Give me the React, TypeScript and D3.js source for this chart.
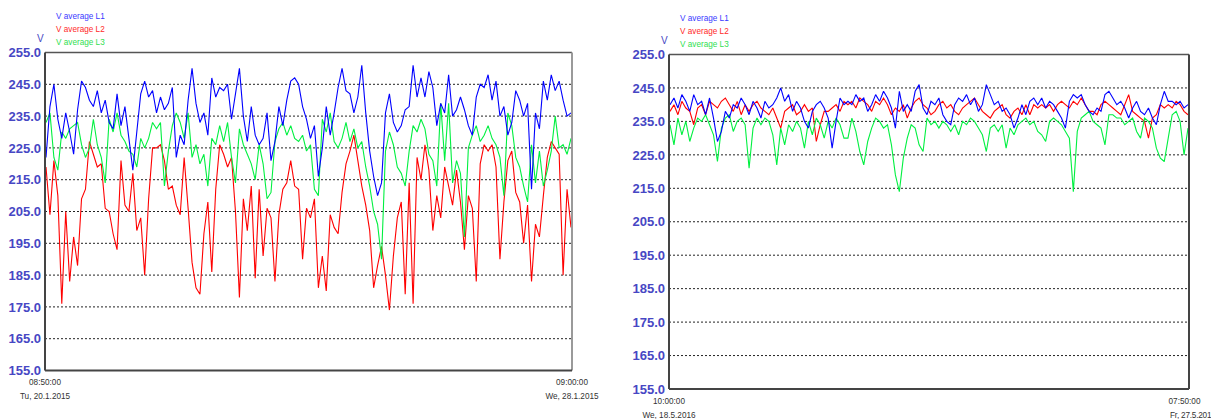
import * as d3 from 'd3';

// voltage readings, left recording (20.1.2015 - 28.1.2015)
const leftL1 = [
  222, 238, 245, 234, 228, 236, 230, 223, 237, 246, 244, 240, 238, 243, 236, 240, 233, 231, 242, 232, 238, 228, 218, 230, 242,
  246, 241, 243, 236, 241, 237, 239, 244, 222, 229, 226, 240, 250, 239, 233, 236, 229, 247, 241, 244,
  243, 245, 234, 242, 250, 235, 227, 238, 229, 226, 228, 236, 221, 227, 238, 232, 240, 246, 247, 245, 238, 234, 228, 232, 216,
  225, 238, 229, 236, 244, 250, 243, 242, 236, 241, 251, 236, 224, 216, 210, 214, 236, 242, 233, 230,
  232, 237, 238, 251, 241, 247, 241, 249, 244, 232, 239, 236, 248, 235, 237, 241, 237, 232, 229, 241, 245, 244, 248, 240, 246,
  235, 238, 229, 233, 243, 240, 235, 239, 212, 236, 231, 246, 240, 248, 243, 246, 240, 235, 236,
];
const leftL2 = [
  219, 204, 221, 210, 176, 205, 183, 197, 188, 209, 212, 227, 223, 219, 220, 206, 205, 198, 193, 221, 207, 205, 217, 199, 203,
  185, 209, 225, 225, 226, 221, 212, 213, 207, 204, 222, 206, 189, 181, 179, 198, 208, 186, 212, 226,
  223, 219, 222, 205, 178, 209, 199, 213, 184, 212, 191, 206, 203, 183, 204, 212, 214, 221, 213, 212, 190, 206, 203, 209, 181,
  191, 180, 204, 200, 198, 211, 220, 224, 229, 221, 213, 207, 199, 181, 188, 194, 185, 174, 191, 203,
  208, 179, 214, 176, 222, 215, 226, 218, 199, 210, 203, 219, 213, 207, 218, 208, 193, 210, 206, 183, 220, 226, 224, 226, 219,
  190, 208, 221, 224, 211, 208, 195, 207, 183, 201, 197, 210, 222, 227, 225, 223, 185, 212, 200,
];
const leftL3 = [
  233, 236, 222, 218, 230, 228, 231, 232, 233, 226, 222, 225, 234, 226, 222, 214, 234, 230, 236, 229, 227, 224, 223, 219, 228,
  225, 228, 233, 231, 233, 213, 224, 232, 236, 233, 228, 236, 222, 226, 220, 223, 213, 228, 226, 232,
  227, 233, 222, 214, 231, 226, 223, 220, 215, 226, 220, 209, 211, 227, 231, 233, 229, 232, 228, 227, 229, 224, 226, 212, 210,
  234, 230, 236, 227, 225, 228, 233, 227, 231, 225, 227, 219, 213, 205, 201, 190, 224, 230, 226, 219,
  217, 213, 224, 232, 230, 234, 231, 223, 221, 213, 239, 221, 239, 214, 221, 217, 197, 225, 229, 232, 227, 229, 232, 228, 226,
  222, 210, 236, 232, 222, 219, 213, 208, 226, 214, 224, 213, 218, 224, 235, 225, 226, 223, 228,
];

// voltage readings, right recording (18.5.2016 - 27.5.2016)
const rightL1 = [
  240, 242, 239, 243, 241, 238, 243, 240, 241, 237, 242, 236, 229, 232, 238, 236, 240, 239, 242, 240, 237, 241, 239, 236, 241,
  239, 240, 242, 245, 241, 243, 238, 241, 239, 235, 233, 238, 240, 241, 239, 236, 227, 235, 242, 240,
  241, 240, 243, 241, 242, 238, 240, 243, 241, 244, 242, 239, 233, 244, 238, 240, 238, 244, 246, 239, 237, 241, 240, 242, 237,
  235, 234, 240, 242, 241, 243, 240, 242, 238, 240, 246, 243, 240, 241, 238, 239, 237, 233, 236, 240,
  237, 241, 242, 240, 242, 239, 241, 240, 238, 236, 233, 241, 243, 242, 243, 240, 238, 237, 239, 238, 243, 244, 242, 240, 241,
  239, 236, 239, 241, 238, 237, 239, 236, 234, 240, 244, 241, 241, 240, 241, 239, 240,
];
const rightL2 = [
  238, 240, 237, 241, 239, 238, 234, 239, 240, 237, 241, 240, 239, 241, 242, 240, 238, 241, 237, 240, 238, 240, 241, 239, 238,
  237, 239, 236, 233, 238, 239, 240, 237, 238, 240, 238, 239, 229, 234, 238, 238, 239, 240, 238, 241,
  240, 241, 239, 242, 241, 240, 238, 241, 240, 242, 240, 237, 239, 238, 240, 236, 239, 241, 242, 240, 239, 237, 238, 240, 241,
  239, 240, 238, 237, 239, 240, 241, 242, 240, 238, 237, 236, 238, 239, 240, 237, 236, 238, 239, 237,
  240, 237, 240, 239, 240, 239, 240, 238, 240, 241, 240, 239, 241, 240, 242, 240, 238, 238, 237, 240, 241, 240, 239, 238, 237,
  240, 243, 238, 237, 236, 235, 230, 236, 237, 240, 239, 240, 239, 241, 240, 238, 237,
];
const rightL3 = [
  234, 228, 236, 231, 235, 229, 233, 236, 235, 237, 234, 231, 223, 233, 236, 237, 232, 235, 236, 234, 221, 233, 236, 234, 236,
  235, 231, 222, 233, 228, 234, 232, 235, 233, 227, 235, 231, 236, 234, 230, 235, 233, 236, 234, 230,
  230, 236, 232, 226, 222, 229, 233, 236, 235, 233, 234, 228, 219, 214, 224, 230, 234, 233, 228, 226, 236, 234, 235, 233, 235,
  234, 232, 234, 231, 235, 234, 236, 235, 233, 231, 226, 233, 234, 232, 234, 227, 233, 231, 234, 235,
  236, 234, 235, 232, 231, 229, 235, 236, 235, 234, 232, 230, 214, 232, 236, 237, 238, 235, 234, 233, 228, 237, 237, 236, 236,
  234, 235, 236, 232, 230, 236, 235, 233, 227, 224, 223, 230, 237, 238, 235, 225, 233,
];

const yTicks = [155, 165, 175, 185, 195, 205, 215, 225, 235, 245, 255];
const seriesNames = ['V average L1', 'V average L2', 'V average L3'];
const leftTimes = ['08:50:00', 'Tu, 20.1.2015', '09:00:00', 'We, 28.1.2015'];
const rightTimes = ['10:00:00', 'We, 18.5.2016', '07:50:00', 'Fr, 27.5.2016'];

const colors = ['#0000ff', '#ff0000', '#00f040'];
const legendColors = ['#3a3aff', '#ff2a2a', '#30e050'];
const tickColor = '#4747c4';
const font = "'Liberation Sans', Arial, sans-serif";

type PanelProps = {
  x0: number; x1: number; top: number; bottom: number;
  series: number[][];
  times: string[];
  timeY: number;
  endShift: number;
  rightEdge: string;
};

function Panel({ x0, x1, top, bottom, series, times, timeY, endShift, rightEdge }: PanelProps) {
  const y = d3.scaleLinear().domain([155, 255]).range([bottom, top]);
  const grid = yTicks.filter(t => t > 155 && t < 255);
  // draw order: L2, L3, L1
  const order = [1, 2, 0];

  return (
    <g>
      <text x={x0 - 8} y={top - 11} fontSize={10} fill={tickColor} fontFamily={font}>V</text>
      {seriesNames.map((s, i) => (
        <text key={s} x={x0 + 11} y={top - 34 + i * 13} fontSize={8.2} fill={legendColors[i]} fontFamily={font}>{s}</text>
      ))}
      {grid.map(t => (
        <line key={t} x1={x0} x2={x1} y1={y(t)} y2={y(t)} stroke="#222" strokeWidth={1} strokeDasharray="2,2" />
      ))}
      {yTicks.map(t => (
        <text key={t} x={x0 - 4} y={y(t)} dy="0.36em" textAnchor="end" fontSize={13} fontWeight="bold"
          fill={tickColor} fontFamily={font}>{t.toFixed(1)}</text>
      ))}
      {order.map(i => {
        const data = series[i];
        const x = d3.scaleLinear().domain([0, data.length - 1]).range([x0 + 1, x1 - 1]);
        const line = d3.line<number>().x((_, k) => x(k)).y(d => y(d));
        return <path key={i} d={line(data) || ''} fill="none" stroke={colors[i]} strokeWidth={1.1}
          strokeLinejoin="miter" strokeMiterlimit={2} />;
      })}
      <line x1={x0} x2={x1} y1={top} y2={top} stroke="#555" strokeWidth={1.5} />
      <line x1={x1} x2={x1} y1={top} y2={bottom} stroke={rightEdge} strokeWidth={2} />
      <line x1={x0} x2={x0} y1={top} y2={bottom} stroke="#444" strokeWidth={2} />
      <line x1={x0} x2={x1} y1={bottom} y2={bottom} stroke="#444" strokeWidth={2} />
      <text x={x0} y={timeY} textAnchor="middle" fontSize={8.2} fill="#333" fontFamily={font}>{times[0]}</text>
      <text x={x0} y={timeY + 14} textAnchor="middle" fontSize={8.2} fill="#333" fontFamily={font}>{times[1]}</text>
      <text x={x1 - endShift} y={timeY} textAnchor="middle" fontSize={8.2} fill="#333" fontFamily={font}>{times[2]}</text>
      <text x={x1 - endShift} y={timeY + 14} textAnchor={endShift ? 'start' : 'middle'} dx={endShift ? -14.5 : 0}
        fontSize={8.2} letterSpacing={endShift ? -0.2 : 0} fill="#333" fontFamily={font}>{times[3]}</text>
    </g>
  );
}

export default function App() {
  return (
    <svg width={1211} height={419} style={{ position: 'absolute', left: 0, top: 0, background: '#fff' }}>
      <Panel x0={45} x1={572} top={52.5} bottom={370.5} series={[leftL1, leftL2, leftL3]}
        times={leftTimes} timeY={384.5} endShift={0} rightEdge="#9a9a9a" />
      <Panel x0={669} x1={1189} top={54.5} bottom={389} series={[rightL1, rightL2, rightL3]}
        times={rightTimes} timeY={404} endShift={4.5} rightEdge="#444" />
    </svg>
  );
}
